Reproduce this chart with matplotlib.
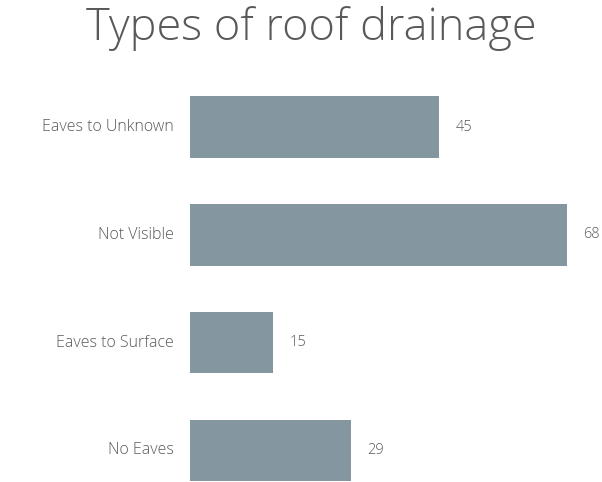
import matplotlib.pyplot as plt

categories = ['Eaves to Unknown', 'Not Visible', 'Eaves to Surface', 'No Eaves']
counts = [45, 68, 15, 29]

bar_color = '#84969f'
text_color = '#595959'
plt.rcParams['font.family'] = ['Open Sans', 'DejaVu Sans']

fig = plt.figure(figsize=(6.02, 4.82), dpi=100)
ax = fig.add_axes([190 / 602, 0, 410 / 602, 412 / 482])

pos = list(range(len(categories)))
ax.barh(pos, counts, height=0.57, color=bar_color)
ax.set_xlim(0, 74)
ax.set_ylim(3.293, -0.529)

for y, v in zip(pos, counts):
    ax.text(v + 3, y, str(v), va='center', ha='left', fontsize=10.5, color=text_color,
            fontweight='light')
    ax.text(-3, y, categories[y], va='center', ha='right', fontsize=11.5, color=text_color,
            fontweight='light')

ax.axis('off')
fig.text(0.517, 0.94, 'Types of roof drainage', ha='center', va='center',
         fontsize=32.5, color=text_color, fontweight='light')

fig.savefig('out.png', dpi=100, facecolor='white')
